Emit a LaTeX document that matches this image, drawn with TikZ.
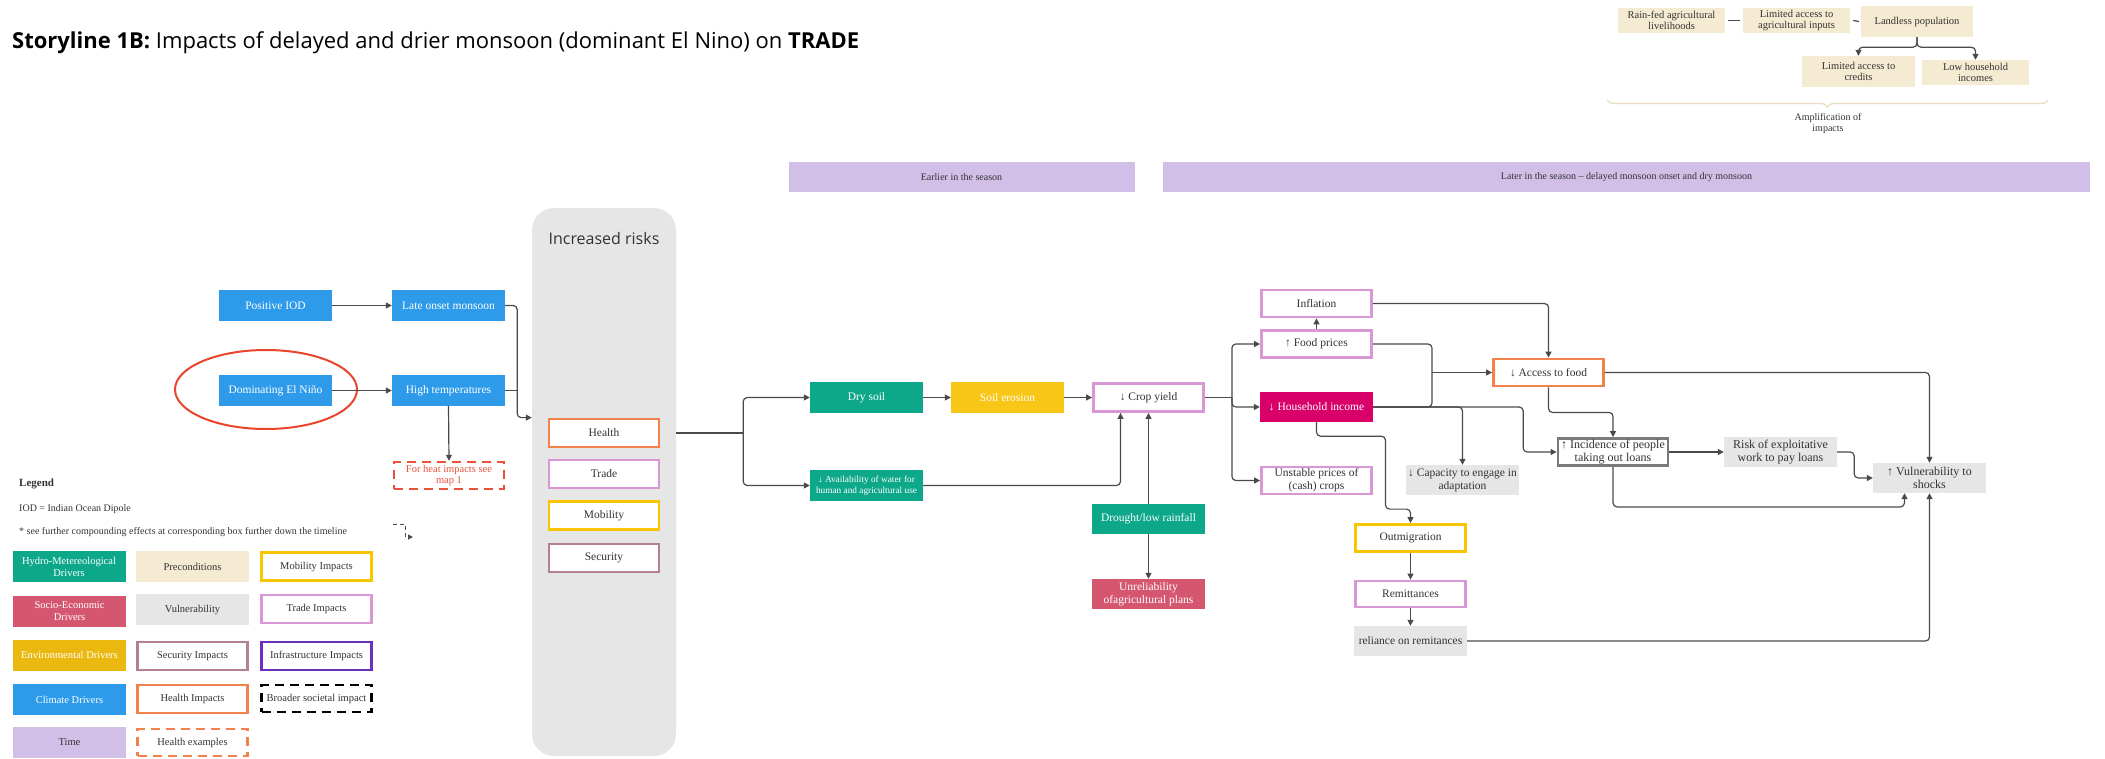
\documentclass[tikz,border=0pt]{standalone}
\usepackage{fontspec}
\setmainfont{Liberation Serif}
\newfontfamily\opensans{Open Sans}
\usetikzlibrary{arrows.meta,calc,decorations.pathreplacing,shapes.geometric}
\definecolor{climate}{HTML}{2D9BEA}
\definecolor{hydro}{HTML}{0DA78A}
\definecolor{socio}{HTML}{D5566F}
\definecolor{envc}{HTML}{EAB80E}
\definecolor{soilyel}{HTML}{F8C617}
\definecolor{timec}{HTML}{D1BFE8}
\definecolor{precond}{HTML}{F5EBD3}
\definecolor{vulnc}{HTML}{E6E6E6}
\definecolor{healthc}{HTML}{F2814B}
\definecolor{tradec}{HTML}{DA97D5}
\definecolor{mobc}{HTML}{F8C500}
\definecolor{secc}{HTML}{B4828C}
\definecolor{infrac}{HTML}{6A2FBD}
\definecolor{magc}{HTML}{D9006A}
\definecolor{redc}{HTML}{E8452C}
\definecolor{heatc}{HTML}{E9533A}
\definecolor{linec}{HTML}{4A4A4A}
\definecolor{txt}{HTML}{333333}
\definecolor{bracec}{HTML}{EBDFC3}
\definecolor{loanc}{HTML}{7A7A7A}
\newcommand{\fsz}[2]{\fontsize{#1}{#2}\selectfont}
\begin{document}
\begin{tikzpicture}[x=1pt,y=-1pt,
  base/.style={inner sep=1pt, align=center, font=\fsz{11.5}{13}, text=txt},
  fbox/.style={base, fill=#1, minimum width=113pt, minimum height=31pt},
  wbox/.style={fbox=#1, text=white},
  bbox/.style={base, draw=#1, fill=white, line width=2.8pt, minimum width=110pt, minimum height=28pt},
  dbox/.style={base, draw=#1, fill=white, line width=2.4pt, dash pattern=on 9pt off 6pt, minimum width=110pt, minimum height=27pt},
  conn/.style={draw=linec, line width=1.2pt, rounded corners=4pt},
  arr/.style={conn, -{Triangle[length=6pt,width=6pt]}},
  band/.style={base, fill=timec, minimum height=30pt, font=\fsz{10}{12}},
  leg/.style={font=\fsz{10.5}{12}}
]
\useasboundingbox[fill=white] (0,0) rectangle (2105,758);

% title
\node[anchor=west, inner sep=0, text=black, font=\opensans\fsz{22}{26}] (title) at (12,43) {\textbf{Storyline 1B:} Impacts of delayed and drier monsoon (dominant El Nino) on \textbf{TRADE}};

% top-right preconditions
\node[fbox=precond, minimum width=107pt, minimum height=25pt, font=\fsz{10.5}{11.5}] (rainfed) at (1671.5,20.5) {Rain-fed agricultural\\livelihoods};
\node[fbox=precond, minimum width=107pt, minimum height=25pt, font=\fsz{10.5}{11.5}] (limited) at (1796.5,20.5) {Limited access to\\agricultural inputs};
\node[fbox=precond, minimum width=112pt, minimum height=31pt, font=\fsz{10.5}{11.5}] (landless) at (1917,21.5) {Landless population};
\node[fbox=precond, minimum width=113pt, minimum height=31pt, font=\fsz{10.5}{11.5}] (credits) at (1858.5,71.5) {Limited access to\\credits};
\node[fbox=precond, minimum width=107pt, minimum height=25pt, font=\fsz{10.5}{11.5}] (lowinc) at (1975.5,72.5) {Low household\\incomes};
\draw[conn] ([xshift=3pt]rainfed.east) -- ([xshift=-3pt]limited.west);
\draw[conn] ([xshift=3pt]limited.east) -- ([xshift=-2pt]landless.west);
\draw[arr] (landless.south) -- ++(0,10) -| (credits.north);
\draw[arr] (landless.south) -- ++(0,10) -| (lowinc.north);
\coordinate (brA) at (1607,100);
\coordinate (brB) at (2048,100);
\draw[bracec, line width=1.3pt, decorate, decoration={brace, mirror, amplitude=7pt}] (brA) -- (brB);
\node[base, font=\fsz{10}{11.5}] (ampl) at (1828,123.5) {Amplification of\\impacts};

% time bands
\node[band, minimum width=346pt] (earlier) at (961.5,177) {Earlier in the season};
\node[band, minimum width=927pt] (later) at (1626.5,177) {Later in the season -- delayed monsoon onset and dry monsoon};

% climate drivers
\node[wbox=climate] (iod) at (275.5,305.5) {Positive IOD};
\node[wbox=climate] (late) at (448.5,305.5) {Late onset monsoon};
\node[wbox=climate] (nino) at (275.5,390.5) {Dominating El Niño};
\node[wbox=climate] (hight) at (448.5,390.5) {High temperatures};
\draw[redc, line width=2pt] (266,389.5) ellipse [x radius=91pt, y radius=39.5pt];
\node[dbox=heatc, text=heatc, inner sep=0pt, font=\fsz{10.5}{11.5}] (heat) at (449,475.5) {For heat impacts see\\map 1};
\draw[arr] (iod.east) -- (late.west);
\draw[arr] (nino.east) -- (hight.west);
\draw[arr] (hight.south) -- (heat.north);

% increased risks panel
\node[fill=vulnc, rounded corners=22pt, minimum width=144pt, minimum height=548pt, inner sep=0] (panel) at (604,482) {};
\node[base, font=\opensans\fsz{16}{19}, text=txt] (irisk) at (604,238) {Increased risks};
\node[bbox=healthc] (health) at (604,433) {Health};
\node[bbox=tradec] (trade) at (604,474) {Trade};
\node[bbox=mobc] (mobility) at (604,515.5) {Mobility};
\node[bbox=secc] (security) at (604,558) {Security};
\draw[arr] (late.east) -- ++(12,0) |- (panel.west |- health.north);
\draw[conn] (hight.east) -- ++(12,0);

% earlier-season chain
\node[wbox=hydro] (dry) at (866.5,397.5) {Dry soil};
\node[wbox=soilyel] (erosion) at (1007.5,397.5) {Soil erosion};
\node[bbox=tradec] (crop) at (1148.5,397.5) {↓ Crop yield};
\node[wbox=hydro, font=\fsz{9.3}{10.8}] (water) at (866.5,485.5) {↓ Availability of water for\\human and agricultural use};
\node[wbox=hydro, minimum height=30pt] (drought) at (1148.5,519) {Drought/low rainfall};
\node[wbox=socio, minimum height=30pt] (unrel) at (1148.5,594) {Unreliability\\ofagricultural plans};
\draw[conn] (panel.east |- health.center) -- ++(67,0) coordinate (b1);
\draw[arr] (b1) |- (dry.west);
\draw[arr] (b1) |- (water.west);
\draw[arr] (dry.east) -- (erosion.west);
\draw[arr] (erosion.east) -- (crop.west);
\draw[arr] (water.east) -| ([xshift=-28pt]crop.south);
\draw[arr] (drought.north) -- (crop.south);
\draw[arr] (drought.south) -- (unrel.north);

% later-season chain
\node[bbox=tradec, minimum height=27pt] (infl) at (1316.5,303.5) {Inflation};
\node[bbox=tradec, minimum height=27pt] (food) at (1316.5,344) {↑ Food prices};
\node[wbox=magc, minimum height=30pt] (hh) at (1316.5,407) {↓ Household income};
\node[bbox=tradec, minimum height=27pt] (unstable) at (1316.5,480.5) {Unstable prices of\\(cash) crops};
\node[fbox=vulnc, minimum height=30pt] (capacity) at (1462.5,480) {↓ Capacity to engage in\\adaptation};
\node[bbox=mobc, minimum height=27pt] (outmig) at (1410.5,538) {Outmigration};
\node[bbox=tradec, minimum height=26pt] (remit) at (1410.5,594) {Remittances};
\node[fbox=vulnc, minimum height=30pt] (reliance) at (1410.5,641) {reliance on remitances};
\node[bbox=healthc, minimum height=27pt] (access) at (1548.5,372.5) {↓ Access to food};
\node[bbox=loanc, minimum height=27pt, font=\fsz{12}{13.5}] (incid) at (1613,452) {↑ Incidence of people\\taking out loans};
\node[fbox=vulnc, minimum height=30pt, font=\fsz{12}{13.5}] (risk) at (1780.5,452) {Risk of exploitative\\work to pay loans};
\node[fbox=vulnc, minimum height=30pt, font=\fsz{12}{13.5}] (vuln) at (1929.5,478) {↑ Vulnerability to\\shocks};

\draw[conn] (crop.east) -- ++(27,0) coordinate (b2);
\draw[arr] (b2) |- (food.west);
\draw[arr] (b2) |- (hh.west);
\draw[arr] (b2) |- (unstable.west);
\draw[arr] (food.north) -- (infl.south);
\coordinate (j1) at (1432,372.5);
\draw[conn] (food.east) -| (j1);
\draw[conn] (hh.east) -| (j1);
\draw[arr] (j1) -- (access.west);
\draw[arr] (infl.east) -| (access.north);
\draw[arr] (hh.east) -| (capacity.north);
\draw[arr] (hh.east) -- ++(150,0) |- (incid.west);
\draw[arr] (hh.south) -- ++(0,14) -| ($(outmig.north)+(-25,-14)$) -| (outmig.north);
\draw[arr] (outmig.south) -- (remit.north);
\draw[arr] (remit.south) -- (reliance.north);
\draw[arr] (reliance.east) -| (vuln.south);
\draw[arr] (access.east) -| (vuln.north);
\draw[arr] (access.south) -- ++(0,25) -| (incid.north);
\draw[arr] (incid.east) -- (risk.west);
\draw[arr] (risk.east) -- ++(17,0) |- (vuln.west);
\draw[arr] (incid.south) -- ++(0,40) -| ([xshift=-25pt]vuln.south);

% legend
\node[anchor=west, base, inner sep=0, font=\bfseries\fsz{11}{13}] (leg) at (19,484) {Legend};
\node[anchor=west, base, inner sep=0, font=\fsz{10}{12}] (legiod) at (19,509) {IOD = Indian Ocean Dipole};
\node[anchor=west, base, inner sep=0, font=\fsz{10}{12}] (legsee) at (19,532) {* see further compounding effects at corresponding box further down the timeline};
\coordinate (ls1) at (393,524);
\draw[linec, line width=1pt, dash pattern=on 4pt off 3pt, -{Triangle[length=5pt,width=5pt]}] (ls1) -- ++(12,0) -- ++(0,13) -- ++(8,0);

\node[wbox=hydro, leg] (lhydro) at (69,566.5) {Hydro-Metereological\\Drivers};
\node[wbox=socio, leg] (lsocio) at (69.5,611) {Socio-Economic\\Drivers};
\node[wbox=envc, leg] (lenv) at (69.5,655) {Environmental Drivers};
\node[wbox=climate, leg] (lclim) at (69.5,699.5) {Climate Drivers};
\node[fbox=timec, leg] (ltime) at (69.5,742) {Time};

\node[fbox=precond, leg] (lpre) at (192.5,566.5) {Preconditions};
\node[fbox=vulnc, leg] (lvul) at (192.5,609.5) {Vulnerability};
\node[bbox=secc, leg] (lsec) at (192.5,656) {Security Impacts};
\node[bbox=healthc, leg] (lhealth) at (192.5,699) {Health Impacts};
\node[dbox=healthc, leg] (lhex) at (192.5,742.5) {Health examples};

\node[bbox=mobc, leg] (lmob) at (316.5,566.5) {Mobility Impacts};
\node[bbox=tradec, leg] (ltrade) at (316.5,609) {Trade Impacts};
\node[bbox=infrac, leg] (linfra) at (316.5,656) {Infrastructure Impacts};
\node[dbox=black, leg] (lbroad) at (316.5,698.5) {Broader societal impact};
\end{tikzpicture}
\end{document}
